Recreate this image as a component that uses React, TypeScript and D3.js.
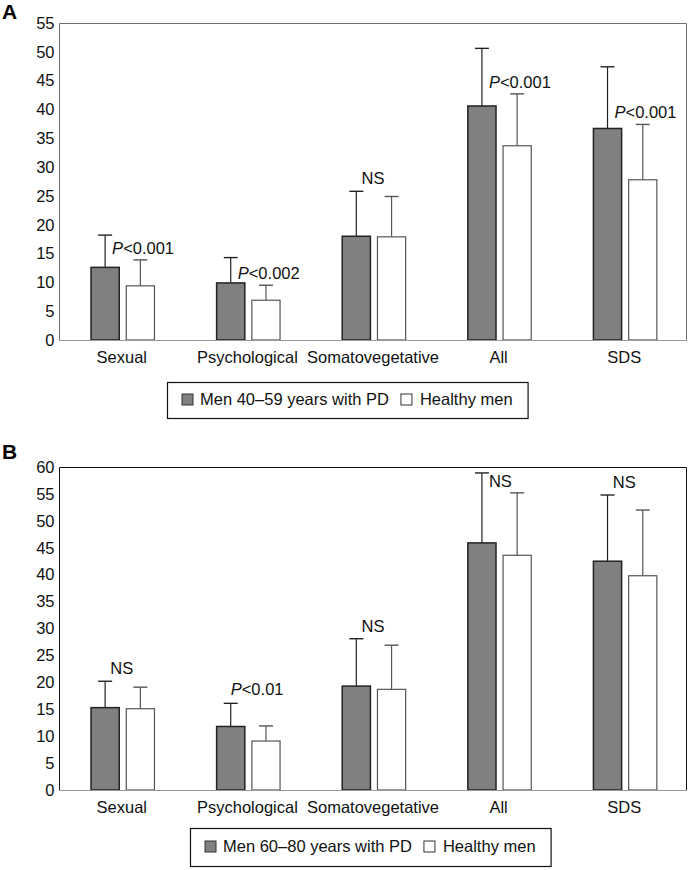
import React from 'react';
import * as d3 from 'd3';

const categories = ['Sexual', 'Psychological', 'Somatovegetative', 'All', 'SDS'];
const seriesKeys = ['pd', 'healthy'];

// panel A: men 40-59
const pdMeanA = [12.6, 9.9, 18.0, 40.6, 36.7];
const pdSdA = [5.6, 4.4, 7.8, 10.0, 10.7];
const healthyMeanA = [9.4, 6.9, 17.9, 33.7, 27.8];
const healthySdA = [4.5, 2.6, 7.0, 9.0, 9.6];
const notesA = ['P<0.001', 'P<0.002', 'NS', 'P<0.001', 'P<0.001'];
const notePlaceA = ['side', 'side', 'center', 'side', 'side'];
const ticksA = [0, 5, 10, 15, 20, 25, 30, 35, 40, 45, 50, 55];

// panel B: men 60-80
const pdMeanB = [15.3, 11.8, 19.3, 45.9, 42.5];
const pdSdB = [4.9, 4.3, 8.8, 13.0, 12.3];
const healthyMeanB = [15.1, 9.1, 18.7, 43.6, 39.8];
const healthySdB = [4.0, 2.8, 8.2, 11.6, 12.2];
const notesB = ['NS', 'P<0.01', 'NS', 'NS', 'NS'];
const notePlaceB = ['center', 'top', 'center', 'side', 'center'];
const ticksB = [0, 5, 10, 15, 20, 25, 30, 35, 40, 45, 50, 55, 60];

const FONT = '"Liberation Sans", Arial, sans-serif';
const FS = 16.5;

const panels = [
  {
    letter: 'A', letterY: 19, top: 23, bottom: 340, max: 55, ticks: ticksA,
    pd: pdMeanA, pdSd: pdSdA, hm: healthyMeanA, hmSd: healthySdA,
    notes: notesA, place: notePlaceA, frame: '#707070',
    legendLabel: 'Men 40\u201359 years with PD', legendX: 167, legendY: 382, legendH: 36,
  },
  {
    letter: 'B', letterY: 459, top: 467, bottom: 790, max: 60, ticks: ticksB,
    pd: pdMeanB, pdSd: pdSdB, hm: healthyMeanB, hmSd: healthySdB,
    notes: notesB, place: notePlaceB, frame: '#111',
    legendLabel: 'Men 60\u201380 years with PD', legendX: 190, legendY: 828, legendH: 38,
  },
];

const App = () => {
  const ref = React.useRef<SVGSVGElement>(null);

  React.useEffect(() => {
    document.body.style.margin = '0';
    const svg = d3.select(ref.current);
    svg.selectAll('*').remove();

    const left = 59;
    const right = 687;

    const x0 = d3.scaleBand().domain(categories).range([left, right]).padding(0);
    const bw = x0.bandwidth();
    const x1 = d3.scaleBand().domain(seriesKeys).range([bw * 0.255, bw * 0.76]).paddingInner(0.2);

    panels.forEach((p) => {
      const g = svg.append('g');
      const y = d3.scaleLinear().domain([0, p.max]).range([p.bottom, p.top]);

      g.append('text')
        .attr('x', 2).attr('y', p.letterY)
        .attr('font-family', FONT).attr('font-size', 21).attr('font-weight', 'bold')
        .text(p.letter);

      // frame
      g.append('path')
        .attr('d', `M${left + 0.5},${p.bottom}V${p.top + 0.5}H${right - 0.5}V${p.bottom}`)
        .attr('fill', 'none').attr('stroke', p.frame).attr('stroke-width', 1);

      const axis = g.append('g')
        .attr('transform', `translate(${left + 0.5},0)`)
        .call(d3.axisLeft(y).tickValues(p.ticks).tickSize(0).tickPadding(5).tickFormat(d3.format('d')));
      axis.select('.domain').remove();
      axis.selectAll('text').attr('font-family', FONT).attr('font-size', FS).attr('fill', '#111');

      const rows = categories.map((c, i) => ({
        cat: c,
        vals: [
          { key: 'pd', mean: p.pd[i], sd: p.pdSd[i] },
          { key: 'healthy', mean: p.hm[i], sd: p.hmSd[i] },
        ],
      }));

      const grp = g.selectAll('g.grp').data(rows).join('g')
        .attr('class', 'grp')
        .attr('transform', (d) => `translate(${x0(d.cat)},0)`);

      // error bars
      grp.selectAll('g.err').data((d) => d.vals).join('g')
        .attr('class', 'err')
        .each(function (d) {
          const cx = (x1(d.key) as number) + x1.bandwidth() / 2;
          const col = d.key === 'pd' ? '#222' : '#555';
          const e = d3.select(this);
          e.append('line')
            .attr('x1', cx).attr('x2', cx)
            .attr('y1', y(d.mean)).attr('y2', y(d.mean + d.sd))
            .attr('stroke', col).attr('stroke-width', 1.2);
          e.append('line')
            .attr('x1', cx - 7).attr('x2', cx + 7)
            .attr('y1', y(d.mean + d.sd)).attr('y2', y(d.mean + d.sd))
            .attr('stroke', col).attr('stroke-width', 1.4);
        });

      grp.selectAll('rect').data((d) => d.vals).join('rect')
        .attr('x', (d) => x1(d.key) as number)
        .attr('y', (d) => y(d.mean))
        .attr('width', x1.bandwidth())
        .attr('height', (d) => y(0) - y(d.mean))
        .attr('fill', (d) => (d.key === 'pd' ? '#808080' : '#fff'))
        .attr('stroke', (d) => (d.key === 'pd' ? '#222' : '#555'))
        .attr('stroke-width', (d) => (d.key === 'pd' ? 1.5 : 1.2));

      // baseline
      g.append('line')
        .attr('x1', left).attr('x2', right)
        .attr('y1', y(0) + 0.5).attr('y2', y(0) + 0.5)
        .attr('stroke', '#999').attr('stroke-width', 1);

      // significance notes
      rows.forEach((r, i) => {
        const base = x0(r.cat) as number;
        const dCx = base + (x1('pd') as number) + x1.bandwidth() / 2;
        const dTop = y(r.vals[0].mean + r.vals[0].sd);
        const hTop = y(r.vals[1].mean + r.vals[1].sd);
        const mode = p.place[i];
        let tx = base + bw / 2;
        let ty = Math.min(dTop, hTop) - 7;
        let anchor = 'middle';
        if (mode === 'side') {
          tx = dCx + 7; ty = hTop - 6; anchor = 'start';
        } else if (mode === 'top') {
          tx = dCx; ty = dTop - 8; anchor = 'start';
        }
        const note = p.notes[i];
        const t = g.append('text')
          .attr('x', tx).attr('y', ty)
          .attr('text-anchor', anchor)
          .attr('font-family', FONT).attr('font-size', FS).attr('fill', '#111');
        if (note.startsWith('P')) {
          t.append('tspan').attr('font-style', 'italic').text('P');
          t.append('tspan').text(note.slice(1));
        } else {
          t.text(note);
        }
      });

      // category labels
      g.selectAll('text.cat').data(categories).join('text')
        .attr('class', 'cat')
        .attr('x', (d) => (x0(d) as number) + bw / 2)
        .attr('y', p.bottom + 23)
        .attr('text-anchor', 'middle')
        .attr('font-family', FONT).attr('font-size', FS).attr('fill', '#111')
        .text((d) => d);

      // legend
      const lg = g.append('g').attr('transform', `translate(${p.legendX},${p.legendY})`);
      const box = lg.append('rect')
        .attr('x', 0.5).attr('y', 0.5).attr('height', p.legendH)
        .attr('fill', '#fff').attr('stroke', '#111').attr('stroke-width', 1.2);
      const midY = p.legendH / 2;
      lg.append('rect')
        .attr('x', 15).attr('y', midY - 6).attr('width', 11).attr('height', 11)
        .attr('fill', '#808080').attr('stroke', '#333');
      const t1 = lg.append('text')
        .attr('x', 33).attr('y', midY + 5)
        .attr('font-family', FONT).attr('font-size', FS).attr('fill', '#111')
        .text(p.legendLabel);
      const w1 = (t1.node() as SVGTextElement).getComputedTextLength();
      const s2 = 33 + w1 + 12;
      lg.append('rect')
        .attr('x', s2).attr('y', midY - 6).attr('width', 11).attr('height', 11)
        .attr('fill', '#fff').attr('stroke', '#333');
      const t2 = lg.append('text')
        .attr('x', s2 + 19).attr('y', midY + 5)
        .attr('font-family', FONT).attr('font-size', FS).attr('fill', '#111')
        .text('Healthy men');
      const w2 = (t2.node() as SVGTextElement).getComputedTextLength();
      box.attr('width', s2 + 19 + w2 + 15);
    });
  }, []);

  return <svg ref={ref} width={688} height={870} style={{ display: 'block' }}></svg>;
};

export default App;
